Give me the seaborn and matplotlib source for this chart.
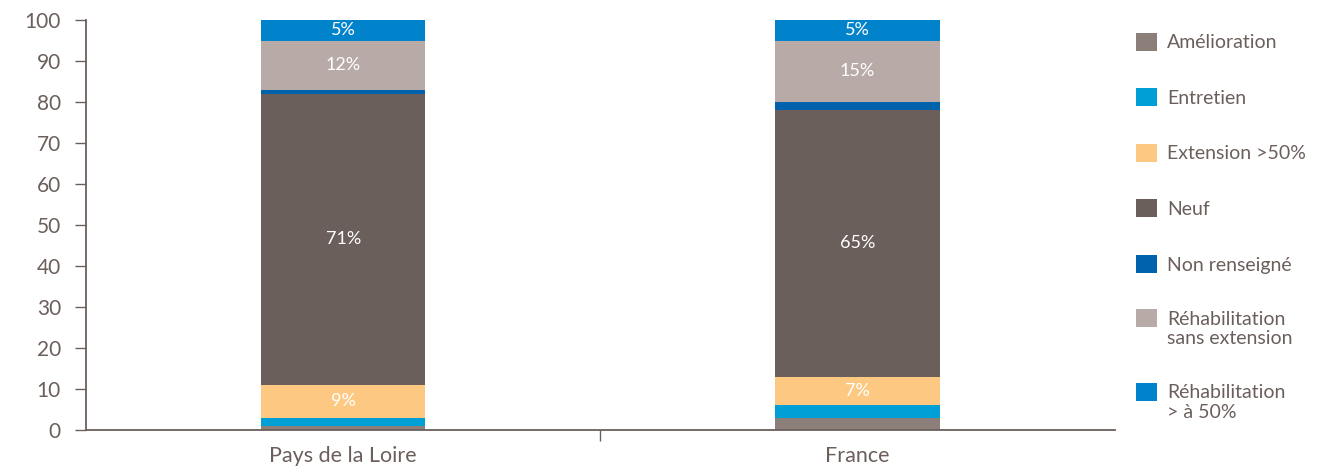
import pandas as pd
import matplotlib.pyplot as plt
import seaborn as sns
from matplotlib.patches import Patch, Rectangle
from matplotlib.legend_handler import HandlerPatch

# data, stacked from bottom to top
regions = ['Pays de la Loire', 'France']
categories = ['Amélioration', 'Entretien', 'Extension >50%', 'Neuf',
              'Non renseigné', 'Réhabilitation\nsans extension',
              'Réhabilitation\n> à 50%']
pays_loire = [1, 2, 8, 71, 1, 12, 5]
france = [3, 3, 7, 65, 2, 15, 5]
labels_pays_loire = ['', '', '9%', '71%', '', '12%', '5%']
labels_france = ['', '', '7%', '65%', '', '15%', '5%']
colors = ['#8c7f7a', '#00a0d6', '#fdc982', '#6b5f5c',
          '#0062ad', '#b8aba7', '#0083cb']

grey = '#6b5f5c'

sns.set_style('white')
plt.rcParams['font.family'] = ['Lato', 'DejaVu Sans']

df = pd.DataFrame({'Pays de la Loire': pays_loire, 'France': france},
                  index=categories)
cum = df.cumsum()

fig = plt.figure(figsize=(13.43, 4.71), dpi=100)
ax = fig.add_axes([0.064, 0.087, 0.766, 0.8705])

# draw cumulative totals from top segment down so they overlap into a stack
for i in range(len(categories) - 1, -1, -1):
    d = pd.DataFrame({'region': regions, 'value': cum.iloc[i].values})
    sns.barplot(data=d, x='region', y='value', order=regions,
                color=colors[i], width=0.32, saturation=1,
                edgecolor='none', linewidth=0, ax=ax)

# segment labels
for j, (region, labs) in enumerate(zip(regions, [labels_pays_loire, labels_france])):
    for i, lab in enumerate(labs):
        if not lab:
            continue
        top = cum[region].iloc[i]
        bottom = top - df[region].iloc[i]
        ax.text(j, (top + bottom) / 2, lab, ha='center', va='center',
                color='white', fontsize=13)

ax.set_xlim(-0.5, 1.5)
ax.set_ylim(0, 100)
ax.set_yticks(range(0, 101, 10))
ax.set_xlabel('')
ax.set_ylabel('')
ax.set_xticks([0.5], minor=True)

for side in ['top', 'right']:
    ax.spines[side].set_visible(False)
for side in ['left', 'bottom']:
    ax.spines[side].set_color(grey)
    ax.spines[side].set_linewidth(1.3)

ax.tick_params(axis='y', left=True, length=8, width=1, color=grey,
               labelcolor=grey, labelsize=15, pad=10)
ax.tick_params(axis='x', which='major', bottom=False, labelcolor=grey,
               labelsize=15.5, pad=8)
ax.tick_params(axis='x', which='minor', bottom=True, length=8, width=1,
               color=grey)


# two-line legend entries keep their square next to the first line
def raised_square(legend, orig_handle, xdescent, ydescent, width, height, fontsize):
    return Rectangle((-xdescent, -ydescent + 0.56 * fontsize), width, height)


handles = [Patch(facecolor=c, edgecolor='none') for c in colors]
handler_map = {h: HandlerPatch(patch_func=raised_square)
               for h, lab in zip(handles, categories) if '\n' in lab}
fig.legend(handles, categories, loc='upper left',
           bbox_to_anchor=(0.833, 0.968), frameon=False, fontsize=14,
           labelcolor=grey, handlelength=1.05, handleheight=1.05,
           labelspacing=1.9, handletextpad=0.55, handler_map=handler_map)

fig.savefig('out.png', dpi=100)
